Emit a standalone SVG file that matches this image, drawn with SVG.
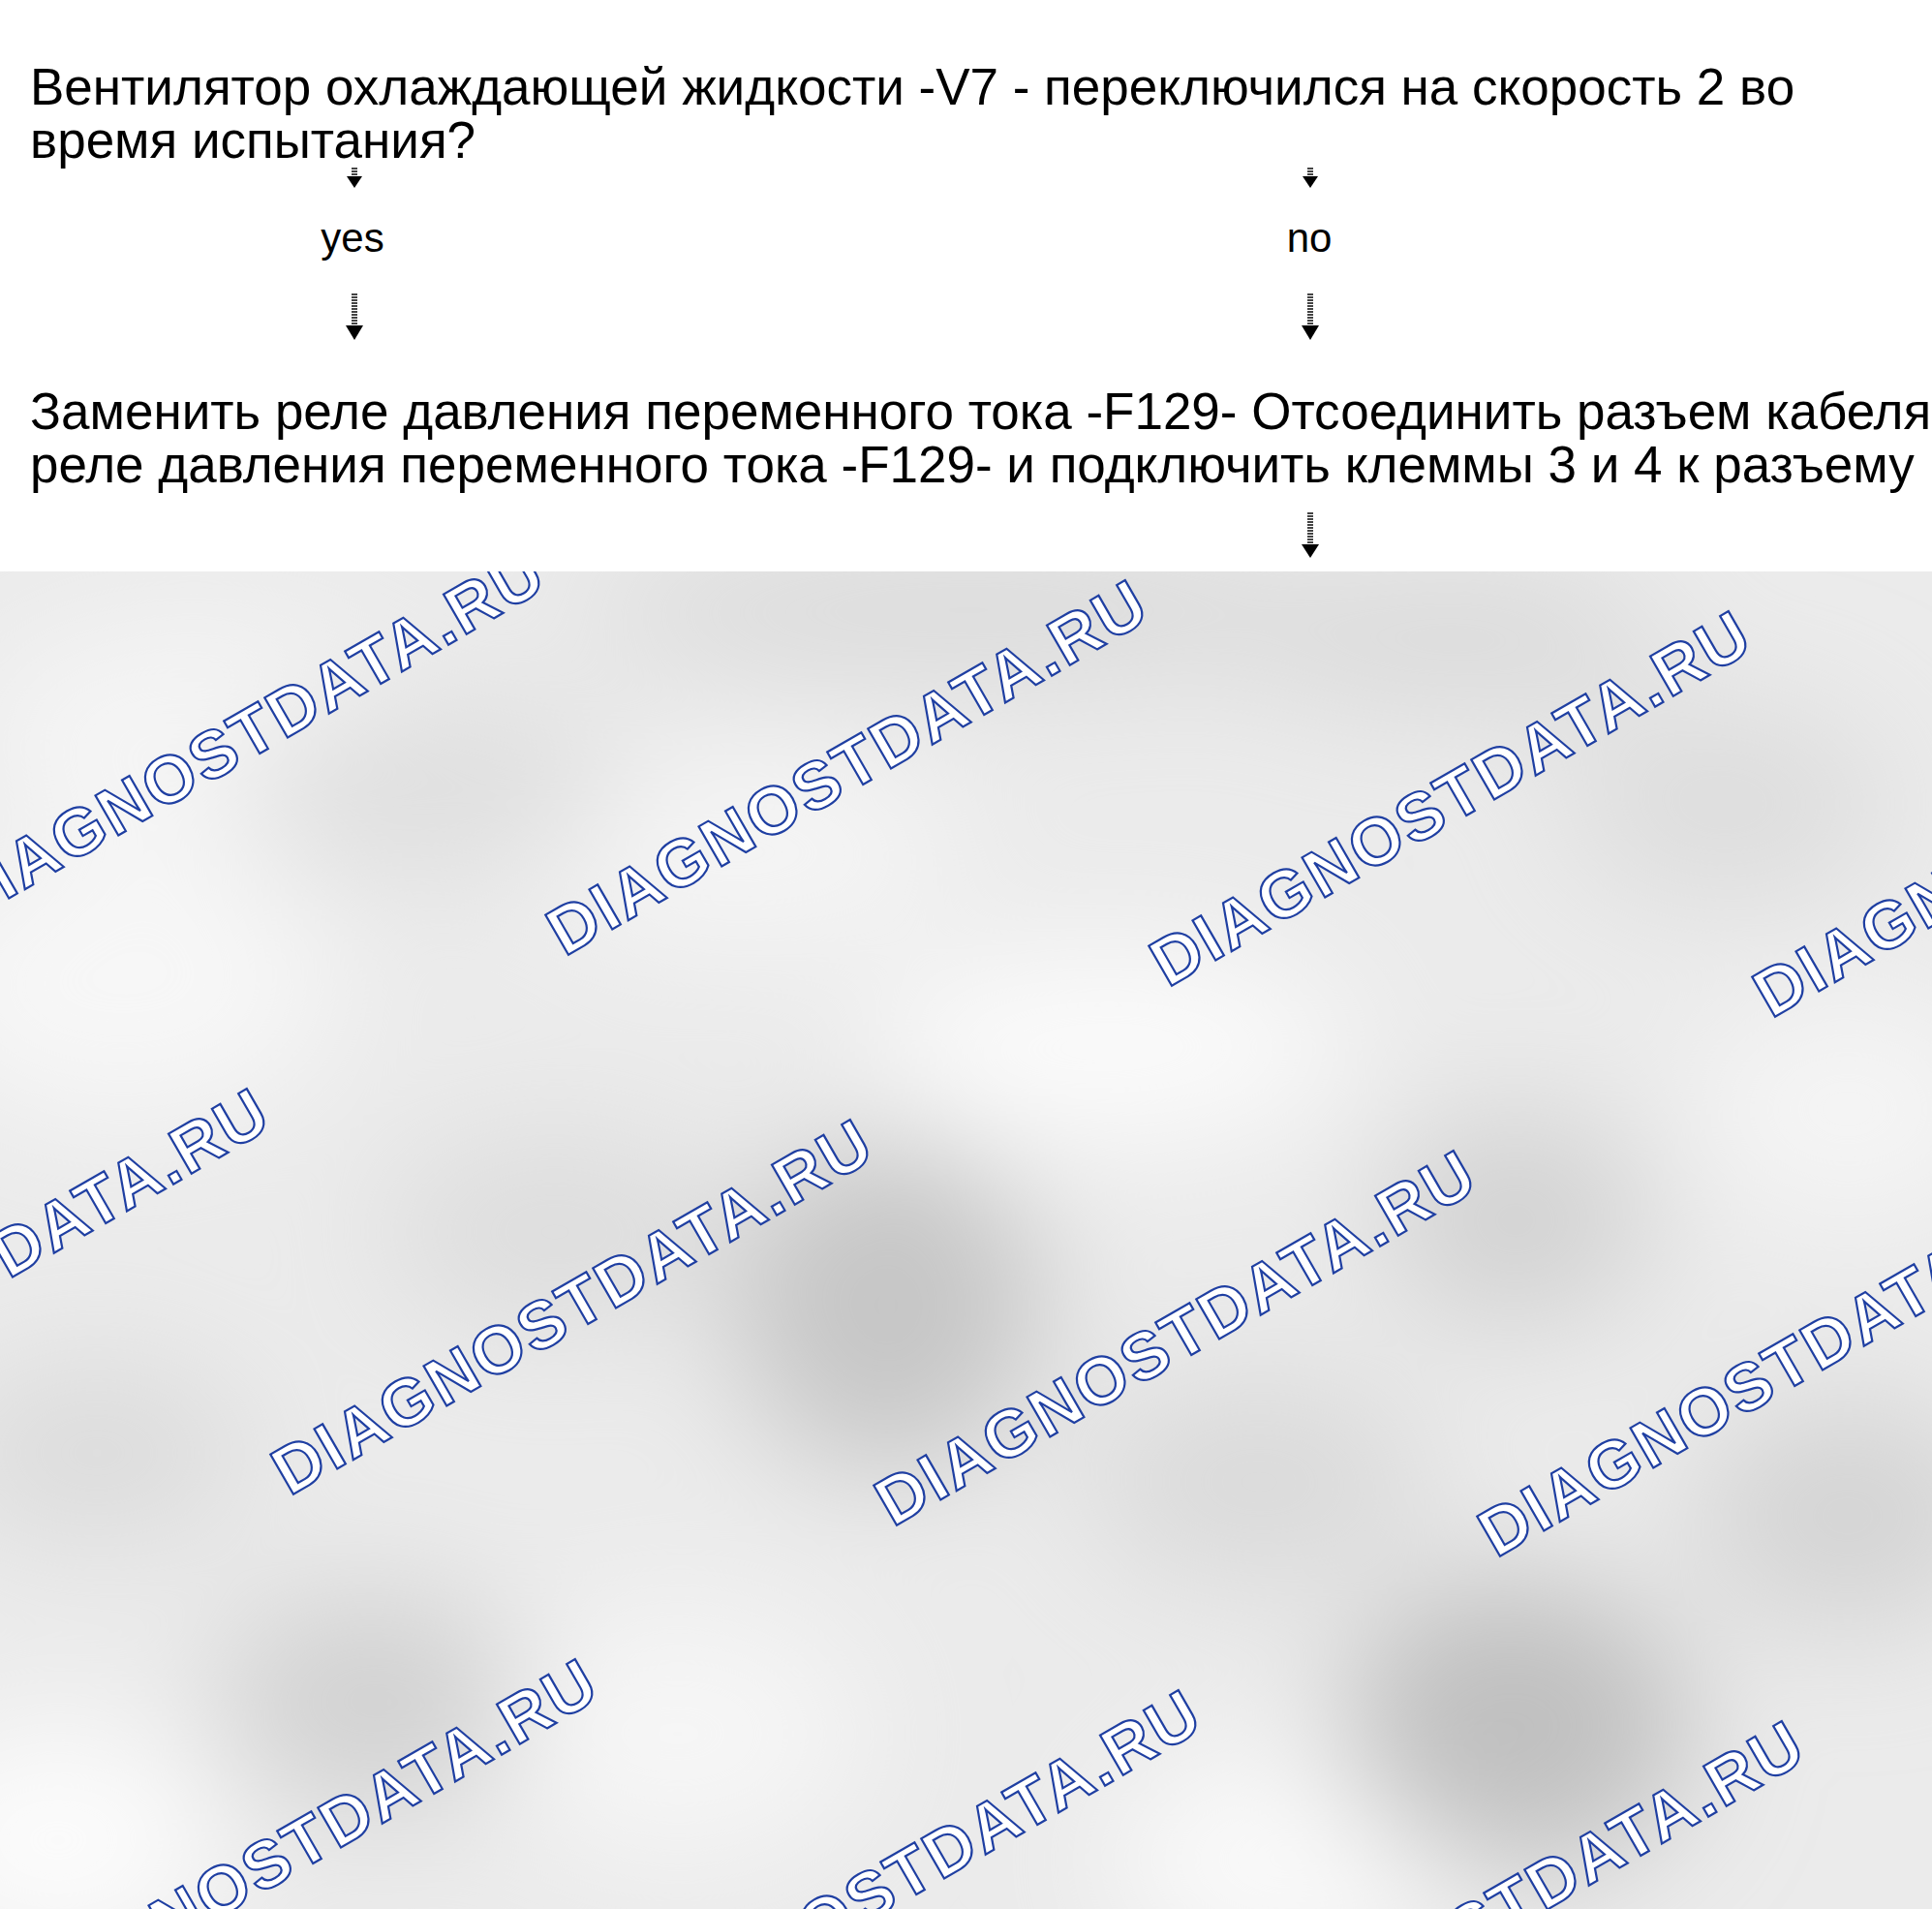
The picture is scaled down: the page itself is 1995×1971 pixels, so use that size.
<svg xmlns="http://www.w3.org/2000/svg" width="1995" height="1971" viewBox="0 0 1995 1971">
<defs>
<filter id="blur" x="-50%" y="-50%" width="200%" height="200%"><feGaussianBlur stdDeviation="65"/></filter>
<style>
.t{font-family:"Liberation Sans",Arial,sans-serif;font-size:53px;fill:#000}
.lbl{font-family:"Liberation Sans",Arial,sans-serif;font-size:42px;fill:#000}
.wm{font-family:"Liberation Sans",Arial,sans-serif;font-weight:bold;font-size:69px;fill:#fff;stroke:#1f3fa2;stroke-width:2.2}
.shaft{stroke:#444;stroke-width:6;stroke-dasharray:2 1}
.head{fill:#000}
</style>
<g id="wmt"><text class="wm" x="0" y="0" textLength="700" lengthAdjust="spacing">DIAGNOSTDATA.RU</text></g>
</defs>
<g id="background">
<rect x="0" y="590" width="1995" height="1381" fill="#ebebeb"/>
<g filter="url(#blur)">
<ellipse cx="1145" cy="1081" rx="250" ry="100" fill="#fbfbfb"/>
<ellipse cx="127" cy="1018" rx="220" ry="140" fill="#f7f7f7"/>
<ellipse cx="200" cy="760" rx="230" ry="120" fill="#f5f5f5"/>
<ellipse cx="60" cy="1900" rx="170" ry="120" fill="#fcfcfc"/>
<ellipse cx="1336" cy="1920" rx="190" ry="110" fill="#fafafa"/>
<ellipse cx="700" cy="1790" rx="190" ry="130" fill="#f6f6f6"/>
<ellipse cx="1908" cy="1145" rx="160" ry="110" fill="#f5f5f5"/>
<ellipse cx="760" cy="880" rx="230" ry="100" fill="#f5f5f5"/>
<ellipse cx="916" cy="1348" rx="160" ry="170" fill="#c6c6c6"/>
<ellipse cx="1565" cy="1781" rx="180" ry="150" fill="#c0c0c0"/>
<ellipse cx="1565" cy="1260" rx="140" ry="110" fill="#d2d2d2"/>
<ellipse cx="382" cy="1756" rx="160" ry="110" fill="#d1d1d1"/>
<ellipse cx="100" cy="1500" rx="160" ry="90" fill="#dbdbdb"/>
<ellipse cx="1908" cy="1565" rx="160" ry="120" fill="#d4d4d4"/>
<ellipse cx="445" cy="814" rx="200" ry="80" fill="#dedede"/>
<ellipse cx="1000" cy="630" rx="400" ry="70" fill="#dadada"/>
<ellipse cx="1500" cy="660" rx="220" ry="70" fill="#d9d9d9"/>
<ellipse cx="1781" cy="830" rx="170" ry="100" fill="#dddddd"/>
<ellipse cx="573" cy="1272" rx="180" ry="100" fill="#dddddd"/>
<ellipse cx="1300" cy="1530" rx="180" ry="110" fill="#dadada"/>
</g>
<g id="watermarks">
<use href="#wmt" transform="translate(-40,956) rotate(-30)"/>
<use href="#wmt" transform="translate(583,988) rotate(-30)"/>
<use href="#wmt" transform="translate(1206,1020) rotate(-30)"/>
<use href="#wmt" transform="translate(1829,1052) rotate(-30)"/>
<use href="#wmt" transform="translate(-324,1513) rotate(-30)"/>
<use href="#wmt" transform="translate(299,1545) rotate(-30)"/>
<use href="#wmt" transform="translate(922,1577) rotate(-30)"/>
<use href="#wmt" transform="translate(1545,1609) rotate(-30)"/>
<use href="#wmt" transform="translate(15,2102) rotate(-30)"/>
<use href="#wmt" transform="translate(638,2134) rotate(-30)"/>
<use href="#wmt" transform="translate(1261,2166) rotate(-30)"/>
</g>
</g>
<rect x="0" y="0" width="1995" height="590" fill="#ffffff"/>
<g id="question">
<text class="t" x="31" y="108">Вентилятор охлаждающей жидкости -V7 - переключился на скорость 2 во</text>
<text class="t" x="31" y="163">время испытания?</text>
</g>
<g id="label-yes"><text class="lbl" x="364" y="260" text-anchor="middle">yes</text></g>
<g id="label-no"><text class="lbl" x="1352" y="260" text-anchor="middle">no</text></g>
<g id="actions">
<text class="t" x="31" y="443">Заменить реле давления переменного тока -F129- Отсоединить разъем кабеля</text>
<text class="t" x="31" y="498">реле давления переменного тока -F129- и подключить клеммы 3 и 4 к разъему</text>
</g>
<g id="connectors">
<line class="shaft" x1="366" y1="173" x2="366" y2="186"/>
<polygon class="head" points="358,182 374,182 366,194"/>
<line class="shaft" x1="366" y1="303" x2="366" y2="340"/>
<polygon class="head" points="357,336 375,336 366,351"/>
<line class="shaft" x1="1353" y1="173" x2="1353" y2="186"/>
<polygon class="head" points="1345,182 1361,182 1353,194"/>
<line class="shaft" x1="1353" y1="303" x2="1353" y2="340"/>
<polygon class="head" points="1344,336 1362,336 1353,351"/>
<line class="shaft" x1="1353" y1="529" x2="1353" y2="566"/>
<polygon class="head" points="1344,562 1362,562 1353,576"/>
</g>
</svg>
